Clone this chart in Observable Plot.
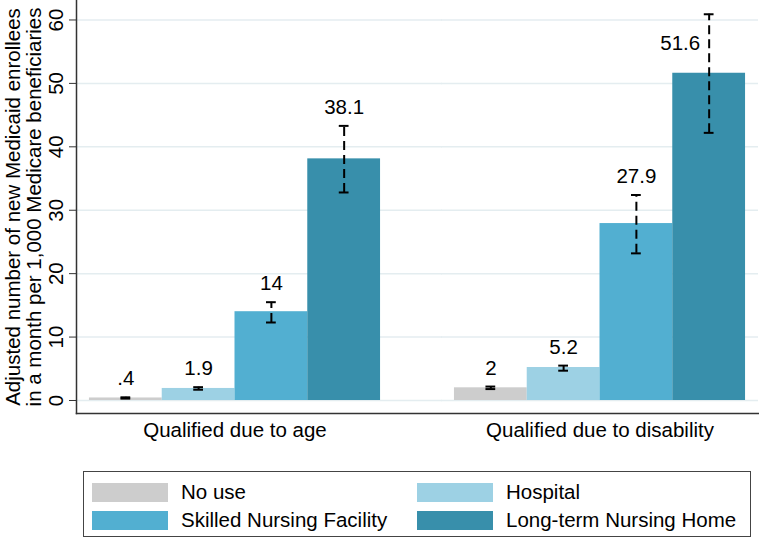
<!DOCTYPE html>
<html><head><meta charset="utf-8">
<script src="https://cdn.jsdelivr.net/npm/d3@7"></script>
<script src="https://cdn.jsdelivr.net/npm/@observablehq/plot@0.6"></script>
<style>
body{margin:0;background:#fff;font-family:"Liberation Sans",Arial,sans-serif;}
#wrap{position:relative;width:759px;height:539px;overflow:hidden;}
#chart{position:absolute;left:0;top:0;}
.legend{position:absolute;left:83px;top:471px;width:668px;height:66px;border:1.5px solid #444;box-sizing:border-box;}
.item{position:absolute;display:flex;align-items:center;font-size:20.5px;color:#000;}
.sw{width:76px;height:19px;margin-right:13px;}
</style>
</head><body>
<div id="wrap"><div id="chart"></div><div class="legend" id="legend"></div></div>
<script>
const groups = ["Qualified due to age", "Qualified due to disability"];
const types = ["No use", "Hospital", "Skilled Nursing Facility", "Long-term Nursing Home"];
const colors = ["#cdcdcd", "#9dd1e4", "#52afd1", "#388fab"];
const ageValues = [0.4, 1.9, 14, 38.1];
const ageLow = [0.3, 1.7, 12.3, 32.8];
const ageHigh = [0.5, 2.1, 15.5, 43.3];
const disValues = [2, 5.2, 27.9, 51.6];
const disLow = [1.8, 4.7, 23.2, 42.2];
const disHigh = [2.2, 5.5, 32.4, 60.9];
const yTicks = [0, 10, 20, 30, 40, 50, 60];
const yTitle = "Adjusted number of new Medicaid enrollees\nin a month per 1,000 Medicare beneficiaries";

const fmt = v => String(v).replace(/^0\./, ".");
const rows = [];
types.forEach((t, i) => {
  rows.push({group: groups[0], type: t, value: ageValues[i], lo: ageLow[i], hi: ageHigh[i]});
  rows.push({group: groups[1], type: t, value: disValues[i], lo: disLow[i], hi: disHigh[i]});
});
rows.forEach(d => d.label = fmt(d.value));
const topTick = d3.max(yTicks);
const inside = rows.filter(d => d.hi <= topTick);
const outside = rows.filter(d => d.hi > topTick);

const W = 759, ML = 75, FS = 20.5;
const pInner = 0.131;
const step = (W - ML) / (groups.length - pInner);
const gapPx = step * pInner;
const gridStyle = {stroke: "#e4edf0", strokeOpacity: 1, strokeWidth: 1.5};

const plot = Plot.plot({
  width: W, height: 455,
  marginLeft: ML, marginRight: 0, marginTop: 0, marginBottom: 42,
  style: {fontFamily: "'Liberation Sans', Arial, sans-serif", fontSize: FS + "px", color: "#000", background: "#fff"},
  fx: {domain: groups, paddingInner: pInner, paddingOuter: 0, label: null, tickSize: 0, tickPadding: 9},
  x: {domain: types, paddingInner: 0, paddingOuter: 0.178, axis: null, round: false},
  y: {domain: [-2.05, 63.07]},
  color: {domain: types, range: colors},
  marks: [
    Plot.ruleY(yTicks, {fx: () => groups[0], insetRight: -gapPx - 1, ...gridStyle}),
    Plot.ruleY(yTicks, {fx: () => groups[1], ...gridStyle}),
    Plot.barY(rows, {fx: "group", x: "type", y: "value", fill: "type"}),
    Plot.ruleX(rows, {fx: "group", x: "type", y1: "lo", y2: "hi", stroke: "#000", strokeWidth: 2, strokeDasharray: "9,5"}),
    Plot.tickY(rows, {fx: "group", x: "type", y: "lo", insetLeft: 31.5, insetRight: 31.5, stroke: "#000", strokeWidth: 2}),
    Plot.tickY(rows, {fx: "group", x: "type", y: "hi", insetLeft: 31.5, insetRight: 31.5, stroke: "#000", strokeWidth: 2}),
    Plot.text(inside, {fx: "group", x: "type", y: "hi", text: "label", lineAnchor: "bottom", dy: -12, fill: "#000", fontSize: FS}),
    Plot.text(outside, {fx: "group", x: "type", y: d => (d.value + d.hi) / 2, text: "label", textAnchor: "end", dx: -9, fill: "#000", fontSize: FS}),
    Plot.axisY(yTicks, {tickRotate: -90, tickSize: 7, tickPadding: 7, stroke: "#333", fontSize: FS, label: yTitle, labelAnchor: "center", labelOffset: 71, labelArrow: "none"}),
    Plot.frame({anchor: "left", facet: "super", stroke: "#333", strokeWidth: 1.5}),
    Plot.frame({anchor: "bottom", facet: "super", stroke: "#333", strokeWidth: 1.5})
  ]
});
document.getElementById("chart").appendChild(plot);

const legend = document.getElementById("legend");
const pos = [[8, 8], [333, 8], [8, 36], [333, 36]];
types.forEach((t, i) => {
  const it = document.createElement("div");
  it.className = "item";
  it.style.left = pos[i][0] + "px";
  it.style.top = pos[i][1] + "px";
  it.innerHTML = `<div class="sw" style="background:${colors[i]}"></div><span>${t}</span>`;
  legend.appendChild(it);
});
</script>
</body></html>
